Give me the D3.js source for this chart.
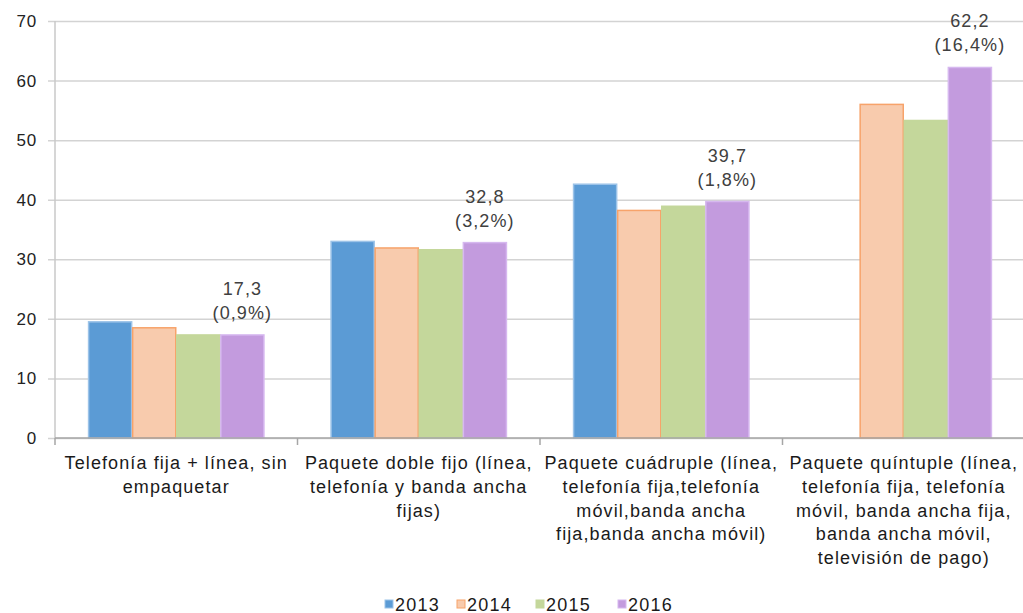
<!DOCTYPE html>
<html>
<head>
<meta charset="utf-8">
<script src="https://cdn.jsdelivr.net/npm/d3@7"></script>
<style>
  body { margin: 0; background: #fff; }
  text { font-family: "Liberation Sans", Arial, sans-serif; }
</style>
</head>
<body>
<div id="chart"></div>
<script>
//chart data
var categories = [
  ["Telefonía fija + línea, sin", "empaquetar"],
  ["Paquete doble fijo (línea,", "telefonía y banda ancha", "fijas)"],
  ["Paquete cuádruple (línea,", "telefonía fija,telefonía", "móvil,banda ancha", "fija,banda ancha móvil)"],
  ["Paquete quíntuple (línea,", "telefonía fija, telefonía", "móvil, banda ancha fija,", "banda ancha móvil,", "televisión de pago)"]
];
var years = ["2013", "2014", "2015", "2016"];
var v2013 = [19.5, 33.0, 42.6, null];
var v2014 = [18.5, 31.9, 38.2, 56.0];
var v2015 = [17.3, 31.6, 38.9, 53.3];
var v2016 = [17.3, 32.8, 39.7, 62.2];
var labels2016 = [["17,3", "(0,9%)"], ["32,8", "(3,2%)"], ["39,7", "(1,8%)"], ["62,2", "(16,4%)"]];
var yTicks = [0, 10, 20, 30, 40, 50, 60, 70];

var series = [v2013, v2014, v2015, v2016];
var fills = ["#5b9bd5", "#f8cbad", "#c4d79b", "#c39bde"];
var strokes = ["#9cc3e8", "#f7a36a", "#c4d79b", "#d6b8ef"];

//plot area (don't use "top", it's window.top)
var width = 1023, height = 613;
var plotLeft = 55, plotRight = 1025, plotTop = 21, plotBottom = 438;

var svg = d3.select("#chart").append("svg")
  .attr("width", width)
  .attr("height", height);

var x = d3.scaleBand().domain(d3.range(categories.length)).range([plotLeft, plotRight]);
var xInner = d3.scaleBand().domain(d3.range(years.length))
  .range([0, x.bandwidth()]).paddingOuter(0.75);
var y = d3.scaleLinear().domain([0, 70]).range([plotBottom, plotTop]);

//gridlines + y axis labels
svg.append("g")
  .attr("transform", "translate(" + plotLeft + ",0)")
  .call(d3.axisLeft(y).tickValues(yTicks).tickSize(-(plotRight - plotLeft)).tickPadding(18))
  .call(function(g) {
    g.select(".domain").remove();
    g.selectAll(".tick line").attr("stroke", "#d3d3d3").attr("stroke-width", 1.5)
      .attr("x1", -7);
    g.selectAll(".tick text").attr("font-size", 17).attr("letter-spacing", 0.8)
      .attr("fill", "#222");
  });

//y axis line
svg.append("line")
  .attr("x1", plotLeft).attr("x2", plotLeft).attr("y1", plotTop).attr("y2", plotBottom)
  .attr("stroke", "#c8c8c8").attr("stroke-width", 1.5);

//bars
series.forEach(function(vals, s) {
  svg.append("g").selectAll("rect")
    .data(vals.map(function(v, i) { return { v: v, i: i }; }).filter(function(d) { return d.v != null; }))
    .enter()
    .append("rect")
    .attr("x", function(d) { return x(d.i) + xInner(s) + 0.5; })
    .attr("y", function(d) { return y(d.v); })
    .attr("width", xInner.bandwidth() - 1)
    .attr("height", function(d) { return plotBottom - y(d.v); })
    .attr("fill", fills[s])
    .attr("stroke", strokes[s])
    .attr("stroke-width", 1.5);
});

//x axis line and category ticks
svg.append("line")
  .attr("x1", plotLeft).attr("x2", plotRight).attr("y1", plotBottom).attr("y2", plotBottom)
  .attr("stroke", "#a6a6a6").attr("stroke-width", 1.5);
svg.append("g").selectAll("line")
  .data(d3.range(categories.length + 1))
  .enter()
  .append("line")
  .attr("x1", function(i) { return plotLeft + i * x.bandwidth(); })
  .attr("x2", function(i) { return plotLeft + i * x.bandwidth(); })
  .attr("y1", plotBottom).attr("y2", plotBottom + 7)
  .attr("stroke", "#a6a6a6").attr("stroke-width", 1.5);

//category labels
categories.forEach(function(lines, i) {
  var t = svg.append("text")
    .attr("text-anchor", "middle")
    .attr("font-size", 18)
    .attr("letter-spacing", 1.1)
    .attr("fill", "#1a1a1a");
  lines.forEach(function(line, k) {
    t.append("tspan")
      .attr("x", x(i) + x.bandwidth() / 2)
      .attr("y", 469 + k * 23.8)
      .text(line);
  });
});

//data labels on 2016 bars
labels2016.forEach(function(lines, i) {
  var cx = x(i) + xInner(3) + xInner.bandwidth() / 2;
  var yTop = y(v2016[i]);
  lines.forEach(function(line, k) {
    svg.append("text")
      .attr("x", cx)
      .attr("y", yTop - 40 + k * 24)
      .attr("text-anchor", "middle")
      .attr("font-size", 18)
      .attr("letter-spacing", 1.1)
      .attr("fill", "#404040")
      .text(line);
  });
});

//legend
var legendX = [385, 457, 536, 618];
var legend = svg.append("g").selectAll("g")
  .data(years)
  .enter()
  .append("g")
  .attr("transform", function(d, i) { return "translate(" + legendX[i] + ",600)"; });
legend.append("rect")
  .attr("width", 8).attr("height", 8)
  .attr("fill", function(d, i) { return fills[i]; })
  .attr("stroke", function(d, i) { return strokes[i]; });
legend.append("text")
  .attr("x", 10).attr("y", 10.5)
  .attr("font-size", 18)
  .attr("letter-spacing", 1.2)
  .attr("fill", "#1a1a1a")
  .text(function(d) { return d; });
</script>
</body>
</html>
